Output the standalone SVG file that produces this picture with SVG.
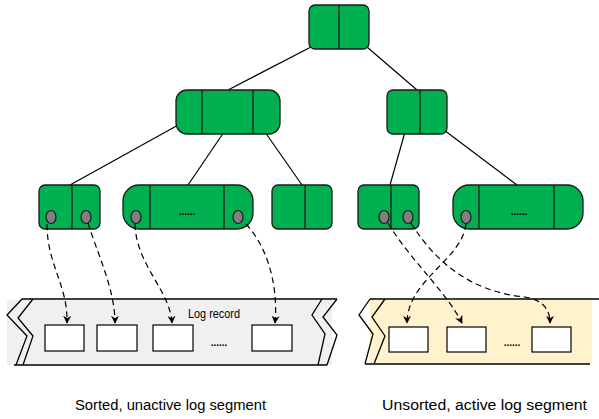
<svg xmlns="http://www.w3.org/2000/svg" width="599" height="419" viewBox="0 0 599 419">
<defs>
<style>
.node{fill:#00b050;stroke:#1a1a1a;stroke-width:1.3}
.div{stroke:#1a1a1a;stroke-width:1.3}
.ptr{fill:#808080;stroke:#1a1a1a;stroke-width:1.2}
.edge{stroke:#000;stroke-width:1.2;fill:none}
.dash{stroke:#000;stroke-width:1.2;fill:none;stroke-dasharray:6 4;marker-end:url(#ah)}
.seg{stroke:#000;stroke-width:1.3;fill:none}
.rec{fill:#fff;stroke:#000;stroke-width:1.2}
.lbl{font-family:"Liberation Sans",Arial,sans-serif;fill:#000}
.dots{font-family:"Liberation Sans",Arial,sans-serif;font-weight:bold;font-size:10px;fill:#000}
</style>
<marker id="ah" viewBox="0 0 10 10" refX="9" refY="5" markerWidth="8" markerHeight="8" orient="auto" markerUnits="userSpaceOnUse">
<path d="M0,0 L10,5 L0,10 L3,5 z" fill="#000"/>
</marker>
</defs>
<rect width="599" height="419" fill="#fff"/>

<g id="edges">
<line class="edge" x1="311" y1="47" x2="228" y2="90"/>
<line class="edge" x1="367" y1="47" x2="417" y2="90"/>
<line class="edge" x1="180" y1="124" x2="70" y2="185"/>
<line class="edge" x1="224" y1="132" x2="188" y2="185"/>
<line class="edge" x1="265" y1="132" x2="302" y2="185"/>
<line class="edge" x1="405" y1="132" x2="390" y2="185"/>
<line class="edge" x1="440" y1="127" x2="517" y2="185"/>
</g>

<g id="log-segment-sorted">
<rect x="7" y="300" width="325" height="65" fill="#f0f0f0"/>
<line class="seg" x1="22" y1="299" x2="337" y2="299"/>
<line class="seg" x1="14" y1="365" x2="327" y2="365"/>
<polyline class="seg" points="22,299 7,315 27,336 16,365"/>
<polyline class="seg" points="33,299 18,318 33,336 23,365"/>
<polyline class="seg" points="322,299 312,315 325,334 318,365"/>
<polyline class="seg" points="337,299 323,317 337,335 327,365"/>
<text class="lbl" x="214" y="318" font-size="12" textLength="52" lengthAdjust="spacingAndGlyphs" text-anchor="middle">Log record</text>
<rect class="rec" x="45" y="325" width="39" height="26"/>
<rect class="rec" x="97" y="325" width="40" height="26"/>
<rect class="rec" x="153" y="325" width="40" height="26"/>
<rect class="rec" x="252" y="325" width="40" height="26"/>
<text class="dots" x="219" y="346" text-anchor="middle">......</text>
</g>

<g id="log-segment-active">
<rect x="370" y="300" width="222" height="64" fill="#fff2cc"/>
<line class="seg" x1="370" y1="299" x2="599" y2="299"/>
<line class="seg" x1="365" y1="364" x2="590" y2="364"/>
<polyline class="seg" points="370,299 359,315 373,334 365,364"/>
<polyline class="seg" points="385,299 372,317 385,336 374,364"/>
<rect class="rec" x="389" y="327" width="39" height="25"/>
<rect class="rec" x="447" y="327" width="39" height="25"/>
<rect class="rec" x="532" y="327" width="39" height="25"/>
<text class="dots" x="512" y="346" text-anchor="middle">......</text>
</g>

<g id="root">
<rect class="node" x="309" y="5" width="60" height="44" rx="6"/>
<line class="div" x1="339" y1="5" x2="339" y2="49"/>
</g>
<g id="inner-left">
<rect class="node" x="176" y="90" width="104" height="44" rx="11"/>
<line class="div" x1="202" y1="90" x2="202" y2="134"/>
<line class="div" x1="253" y1="90" x2="253" y2="134"/>
</g>
<g id="inner-right">
<rect class="node" x="387" y="90" width="60" height="44" rx="6"/>
<line class="div" x1="420" y1="90" x2="420" y2="134"/>
</g>
<g id="leaf-a">
<rect class="node" x="39" y="185" width="61" height="44" rx="6"/>
<line class="div" x1="72" y1="185" x2="72" y2="229"/>
<ellipse class="ptr" cx="51" cy="217" rx="5" ry="6.5"/>
<ellipse class="ptr" cx="86" cy="217" rx="5" ry="6.5"/>
</g>
<g id="leaf-b">
<rect class="node" x="123" y="185" width="130" height="44" rx="16"/>
<line class="div" x1="150" y1="185" x2="150" y2="229"/>
<line class="div" x1="224" y1="185" x2="224" y2="229"/>
<ellipse class="ptr" cx="136" cy="217" rx="5" ry="6.5"/>
<ellipse class="ptr" cx="238" cy="217" rx="5" ry="6.5"/>
<text class="dots" x="187" y="215" text-anchor="middle">......</text>
</g>
<g id="leaf-c">
<rect class="node" x="272" y="185" width="60" height="44" rx="6"/>
<line class="div" x1="305" y1="185" x2="305" y2="229"/>
</g>
<g id="leaf-d">
<rect class="node" x="358" y="185" width="61" height="44" rx="6"/>
<line class="div" x1="391" y1="185" x2="391" y2="229"/>
<ellipse class="ptr" cx="384" cy="217" rx="5" ry="6.5"/>
<ellipse class="ptr" cx="408" cy="217" rx="5" ry="6.5"/>
</g>
<g id="leaf-e">
<rect class="node" x="453" y="185" width="130" height="44" rx="16"/>
<line class="div" x1="479" y1="185" x2="479" y2="229"/>
<line class="div" x1="554" y1="185" x2="554" y2="229"/>
<ellipse class="ptr" cx="466" cy="217" rx="5" ry="6.5"/>
<text class="dots" x="519" y="215" text-anchor="middle">......</text>
</g>

<g id="pointers">
<path class="dash" d="M47,224 C47,265 68,285 67,323"/>
<path class="dash" d="M88,223 C98,255 115,290 115,323"/>
<path class="dash" d="M135,224 C136,265 170,290 172,323"/>
<path class="dash" d="M246,224 C270,250 278,290 275,323"/>
<path class="dash" d="M388,223 C410,260 445,290 462,323"/>
<path class="dash" d="M411,223 C440,270 480,293 525,297 C545,300 550,312 550,323"/>
<path class="dash" d="M466,224 C462,260 407,280 407,323"/>
</g>

<text class="lbl" x="75" y="410" font-size="14" textLength="191" lengthAdjust="spacingAndGlyphs">Sorted, unactive log segment</text>
<text class="lbl" x="382" y="410" font-size="14" textLength="205" lengthAdjust="spacingAndGlyphs">Unsorted, active log segment</text>
</svg>
